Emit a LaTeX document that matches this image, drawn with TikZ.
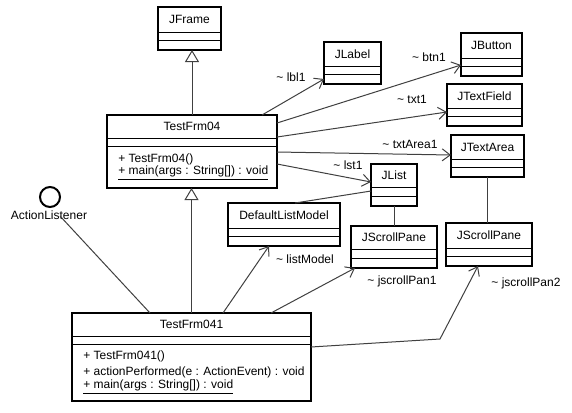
\documentclass[tikz,border=0pt]{standalone}
\usepackage{fontspec}
\setmainfont{Liberation Sans}
\usetikzlibrary{arrows.meta, calc, fit}

\tikzset{
	classbox/.style={draw, line width=1.5pt, inner sep=0pt, outer sep=0pt},
	sepline/.style={line width=0.75pt},
	classname/.style={inner sep=0pt, font=\fontsize{9}{11}\selectfont},
	member/.style={anchor=west, inner sep=0pt, font=\fontsize{9}{11}\selectfont},
	rolelabel/.style={inner sep=0pt, font=\fontsize{9}{11}\selectfont},
	assoc/.style={draw=black!75, line width=0.75pt},
	navig/.style={assoc, -{Straight Barb[length=6pt,width=9pt]}},
	inherit/.style={assoc, -{Triangle[open,length=9pt,width=10.5pt,fill=white]}}
}

% class box: id, left, top, right, bottom, first line, second line, name
\newcommand{\umlclass}[8]{%
	\node[classbox, fit={(#2,#3) (#4,#5)}] (#1) {};
	\draw[sepline] (#2,#6) -- (#4,#6);
	\draw[sepline] (#2,#7) -- (#4,#7);
	\node[classname] (#1-name) at ({(#2+#4)/2},{(#3+#6)/2}) {#8};
}

\begin{document}
\begin{tikzpicture}[x=0.75pt, y=-0.75pt]
	\fill[white] (0,0) rectangle (572,412);
	\useasboundingbox (0,0) rectangle (572,412);

	% classes
	\umlclass{jframe}{158}{7}{221}{50}{32}{40}{JFrame}
	\umlclass{jlabel}{324}{42}{381}{84}{66}{74}{JLabel}
	\umlclass{jbutton}{461}{33}{522}{76}{58}{66}{JButton}
	\umlclass{jtextfield}{447}{84}{522}{126}{108}{116}{JTextField}
	\umlclass{jtextarea}{451}{135}{524}{177}{159}{167}{JTextArea}
	\umlclass{jlist}{371}{164}{417}{206}{187}{196}{JList}
	\umlclass{listmodel}{228}{203}{340}{246}{228}{236}{DefaultListModel}
	\umlclass{scroll1}{351}{226}{437}{268}{249}{258}{JScrollPane}
	\umlclass{scroll2}{446}{223}{532}{266}{248}{256}{JScrollPane}
	\umlclass{frm04}{107}{115}{277}{188}{138}{146}{TestFrm04}
	\umlclass{frm041}{72}{313}{311}{401}{336}{344}{TestFrm041}

	\node[member] (frm04-m1) at (118,159) {+ TestFrm04()};
	\node[member] (frm04-m2) at (118,173) {\underline{+ main(args : String[]) : void}};
	\node[member] (frm041-m1) at (83,356) {+ TestFrm041()};
	\node[member] (frm041-m2) at (83,372) {+ actionPerformed(e : ActionEvent) : void};
	\node[member] (frm041-m3) at (83,387) {\underline{+ main(args : String[]) : void}};

	% interface
	\node[draw, circle, line width=1.5pt, minimum size=15pt, inner sep=0pt] (listener) at (50,197) {};
	\node[rolelabel] (listener-name) at (49,215) {ActionListener};

	% generalisation
	\draw[inherit] (frm04.north) -- (frm04.north |- jframe.south);
	\draw[inherit] (frm041.north) -- (frm041.north |- frm04.south);
	\draw[assoc] ($(frm041.north west)+(78,0)$) -- ($(listener-name.center)+(11,1)$);

	% fields of TestFrm04
	\draw[navig] ($(frm04.north east)+(-15,0)$) -- ($(jlabel.north west)+(0,37)$);
	\draw[navig] ($(frm04.north east)+(0,8)$) -- ($(jbutton.north west)+(0,32)$);
	\draw[navig] ($(frm04.north east)+(0,22)$) -- ($(jtextfield.north west)+(0,28)$);
	\draw[navig] ($(frm04.north east)+(0,37)$) -- ($(jtextarea.north west)+(0,20)$);
	\draw[navig] ($(frm04.north east)+(0,49)$) -- ($(jlist.north west)+(0,18)$);
	\node[rolelabel] (lbl1) at (291,77) {\textasciitilde\ lbl1};
	\node[rolelabel] (btn1) at (429,57) {\textasciitilde\ btn1};
	\node[rolelabel] (txt1) at (412,99) {\textasciitilde\ txt1};
	\node[rolelabel] (txtarea1) at (410,144) {\textasciitilde\ txtArea1};
	\node[rolelabel] (lst1) at (348,165) {\textasciitilde\ lst1};

	% plain associations
	\draw[assoc] ($(jlist.north west)+(0,27)$) -- ($(listmodel.north west)+(67,0)$);
	\draw[assoc] (jlist.south) -- (jlist.south |- scroll1.north);
	\draw[assoc] (jtextarea.south) -- (jtextarea.south |- scroll2.north);

	% fields of TestFrm041
	\draw[navig] ($(frm041.north west)+(151,0)$) -- ($(listmodel.south west)+(41,0)$);
	\draw[navig] ($(frm041.north west)+(199,0)$) -- ($(scroll1.south west)+(4,0)$);
	\draw[navig] ($(frm041.north east)+(0,34)$) -- (440,339) -- ($(scroll2.south west)+(32,0)$);
	\node[rolelabel] (listmodel-role) at (305,259) {\textasciitilde\ listModel};
	\node[rolelabel] (scroll1-role) at (402,281) {\textasciitilde\ jscrollPan1};
	\node[rolelabel] (scroll2-role) at (526,283) {\textasciitilde\ jscrollPan2};
\end{tikzpicture}
\end{document}
